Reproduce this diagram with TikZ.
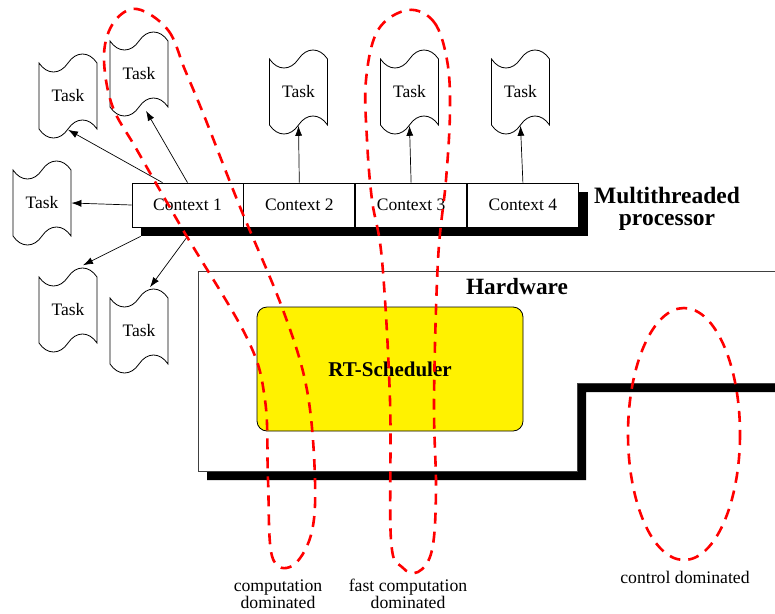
\documentclass[tikz,border=0pt]{standalone}
\usepackage{fontspec}
\setmainfont{Liberation Serif}
\usetikzlibrary{shapes.symbols,arrows.meta,positioning,backgrounds}

\tikzset{
  ctx/.style={draw, fill=white, line width=0.8pt, minimum width=111pt, minimum height=44pt,
    inner sep=0pt, font=\fontsize{17.5}{20}\selectfont},
  task/.style={tape, draw, fill=white, line width=0.8pt, minimum width=58pt, minimum height=84pt,
    tape bend height=18pt, inner sep=0pt, font=\fontsize{17.5}{20}\selectfont},
  sched/.style={draw, fill=yellow, rounded corners=10pt, line width=0.8pt,
    minimum width=266pt, minimum height=124pt, font=\bfseries\fontsize{21}{24}\selectfont},
  toarrow/.style={-{Latex[length=10pt,width=7pt]}, line width=0.7pt},
  domainloop/.style={red, line width=2.6pt, dash pattern=on 11pt off 8pt},
  caption/.style={align=center, font=\fontsize{17.7}{16.5}\selectfont},
}

\begin{document}
\begin{tikzpicture}[x=1pt,y=-1pt]
\useasboundingbox (0,0) rectangle (775,613);

% hardware block with its stepped shadow
\fill[black] (207,280) -- (790,280) -- (790,392) -- (586,392) -- (586,480) -- (207,480) -- cycle;
\filldraw[fill=white, draw=black!75, line width=0.8pt]
  (198,271) -- (790,271) -- (790,383) -- (577,383) -- (577,471) -- (198,471) -- cycle;
\node[font=\bfseries\fontsize{23.3}{26}\selectfont] (hw) at (517,287) {Hardware};
\node[sched] (rts) at (390,369) {RT-Scheduler};

% processor with four contexts
\node[ctx] (c1) at (187.5,205) {Context 1};
\node[ctx, right=0pt of c1] (c2) {Context 2};
\node[ctx, right=0pt of c2] (c3) {Context 3};
\node[ctx, right=0pt of c3] (c4) {Context 4};
\begin{scope}[on background layer]
\fill[black] ([shift={(9,9)}]c1.north west) rectangle ([shift={(9,9)}]c4.south east);
\end{scope}
\node[align=center, font=\bfseries\fontsize{23.5}{22}\selectfont] (mtp) at (667,209) {Multithreaded\\processor};

% tasks
\node[task] (ta) at (68,96) {Task};
\node[task] (tb) at (139,74) {Task};
\node[task] (tc) at (42,203) {Task};
\node[task] (td) at (68,310) {Task};
\node[task] (te) at (139,331) {Task};
\node[task] (t2) at (298.5,92) {Task};
\node[task] (t3) at (409.5,92) {Task};
\node[task] (t4) at (520.5,92) {Task};

\draw[toarrow] ([shift={(-25,0)}]c1.north) -- (ta.south);
\draw[toarrow] (c1.north) -- ([shift={(7,3)}]tb.south);
\draw[toarrow] (c1.west) -- (tc.east);
\draw[toarrow] ([shift={(9,9)}]c1.south west) -- ([shift={(15,-11)}]td.north);
\draw[toarrow] ([shift={(0,9)}]c1.south) -- ([shift={(11,-10)}]te.north);
\foreach \c/\t in {c2/t2,c3/t3,c4/t4} \draw[toarrow] (\c.north) -- (\t.south);

% application domains
\draw[domainloop] plot[smooth cycle, tension=0.6] coordinates {(137,9) (168,30) (185,70) (205,118)
  (240,207) (283,310) (307,390) (315,480) (311,535) (292,566) (272,556) (268,480) (265,400)
  (247,338) (183,230) (137,150) (112,105) (104,55) (114,22)};
\draw[domainloop] plot[smooth cycle, tension=0.6] coordinates {(408,10) (434,22) (447,60) (450,110)
  (446,180) (438,260) (434,400) (436,490) (432,550) (418,572) (402,567) (391,540) (390,400)
  (382,260) (372,200) (367,140) (366,80) (378,30)};
\draw[domainloop] (684,434) ellipse [x radius=56, y radius=126];

\node[caption] (l1) at (278,594) {computation\\dominated};
\node[caption] (l2) at (408,594) {fast computation\\dominated};
\node[caption] (l3) at (685,577) {control dominated};
\end{tikzpicture}
\end{document}
